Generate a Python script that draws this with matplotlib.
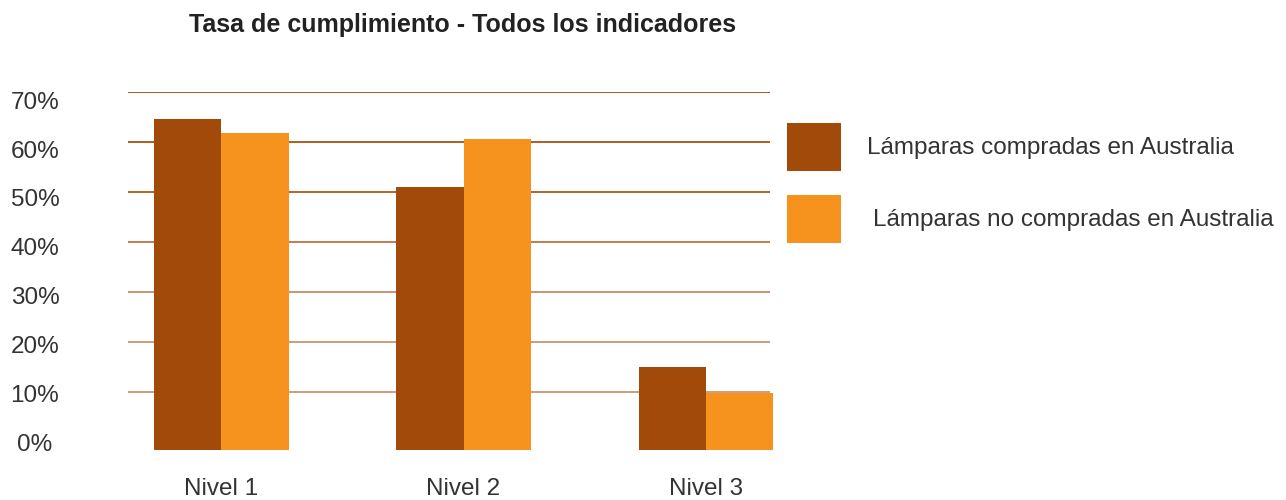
import matplotlib
matplotlib.use("Agg")
import matplotlib.pyplot as plt
import matplotlib.transforms as mtransforms
from matplotlib.patches import Rectangle
import numpy as np

# values (percent)
niveles = ["Nivel 1", "Nivel 2", "Nivel 3"]
compradas = [64.6, 51.0, 15.0]
no_compradas = [61.8, 60.6, 9.9]
series_names = ["Lámparas compradas en Australia", "Lámparas no compradas en Australia"]
yticks = [0, 10, 20, 30, 40, 50, 60, 70]
ytick_labels = ["0%", "10%", "20%", "30%", "40%", "50%", "60%", "70%"]

dark = "#A24A0A"
light = "#F6931E"
text_col = "#333333"
# gridlines fade from dark brown at the top to tan at the bottom
grid_cols = {10: "#C9946F", 20: "#C9946F", 30: "#C68B64", 40: "#BD7140",
             50: "#B0581A", 60: "#A8500F", 70: "#A8500F"}

plt.rcParams["font.family"] = ["Liberation Sans", "DejaVu Sans"]

W, H = 1286, 500
fig = plt.figure(figsize=(W / 100, H / 100), dpi=100)
ax = fig.add_axes([128 / W, 0.1, (770 - 128) / W, 0.7154])

base = -1.6  # bars in the reference start a little under the 0% line
x = np.arange(len(niveles))
w = 0.277
b1 = ax.bar(x - w / 2, np.array(compradas) - base, w, bottom=base, color=dark, zorder=3)
b2 = ax.bar(x + w / 2, np.array(no_compradas) - base, w, bottom=base, color=light, zorder=3)
for r in list(b1) + list(b2):
    r.set_clip_on(False)

for v in yticks[1:]:
    ax.axhline(v, color=grid_cols[v], lw=1.3, zorder=1)

ax.set_xlim(-0.386, 2.266)
ax.set_ylim(base, 70)
ax.set_yticks(yticks)
ax.set_yticklabels(ytick_labels)
ax.set_xticks(x)
ax.set_xticklabels(niveles)
ax.tick_params(axis="y", length=0, pad=0, labelsize=17.5, labelcolor=text_col)
ax.tick_params(axis="x", length=0, pad=20, labelsize=17.5, labelcolor=text_col)
# the % labels drift slightly below their gridlines towards the top
for v, tick in zip(yticks, ax.yaxis.get_major_ticks()):
    lbl = tick.label1
    lbl.set_horizontalalignment("center")
    off = mtransforms.ScaledTranslation(-(128 - 35) / 100, -8 * v / 70 / 100, fig.dpi_scale_trans)
    lbl.set_transform(lbl.get_transform() + off)
for s in ax.spines.values():
    s.set_visible(False)

fig.text(463 / W, 1 - 25 / H, "Tasa de cumplimiento - Todos los indicadores",
         ha="center", va="center", fontsize=18, fontweight="bold", color="#222222")

# legend drawn by hand: big colour squares with labels beside them
for (y0, col, name, tx) in [(123, dark, series_names[0], 867), (195, light, series_names[1], 873)]:
    fig.add_artist(Rectangle((787 / W, 1 - (y0 + 48) / H), 54 / W, 48 / H,
                             transform=fig.transFigure, color=col, lw=0))
    fig.text(tx / W, 1 - (y0 + 25) / H, name, ha="left", va="center",
             fontsize=17.5, color=text_col)

fig.savefig("out.png", dpi=100)
